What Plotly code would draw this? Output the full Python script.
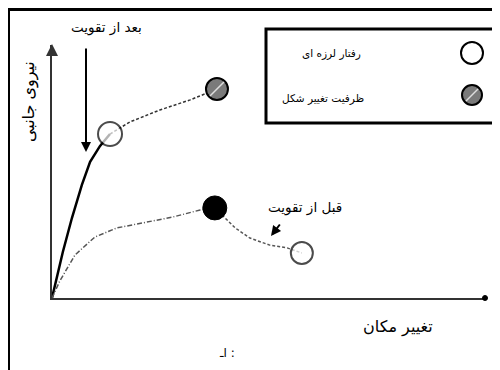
import plotly.graph_objects as go

# schematic values (displacement / lateral force, arbitrary units 0-100)
disp_after = [0, 2.5, 4.6, 6.9, 8.8, 11.1, 13.4]
force_after = [0, 18.2, 31.6, 44.7, 53.8, 60.1, 64.8]

disp_after_ext = [13.4, 18.0, 24.9, 31.9, 38.1]
force_after_ext = [64.8, 69.6, 74.3, 78.3, 82.6]

disp_before = [0, 1.8, 5.3, 9.9, 15.0, 21.0, 27.9, 34.2, 37.6]
force_before = [0, 6.7, 17.0, 24.1, 27.7, 29.6, 32.0, 34.8, 35.6]

disp_before_post = [37.6, 42.3, 45.7, 50.3, 54.3, 57.7]
force_before_post = [35.6, 27.7, 23.7, 20.9, 19.8, 17.8]

labels = {
    'after': 'بعد از تقویت',
    'before': 'قبل از تقویت',
    'yield': 'رفتار لرزه ای',
    'capacity': 'ظرفیت تغییر شکل',
    'x': 'تغییر مکان',
    'y': 'نیروی جانبی',
    'caption': 'اـ :',
}

FONT = 'DejaVu Sans'
OFF = 8  # page body margin
W, H = 500 - OFF, 370 - OFF
L, R, T, B = 44, 15, 37, 72
PW, PH = W - L - R, H - T - B


def px(x):
    # screen pixel -> paper x
    return (x - OFF - L) / PW


def py(y):
    # screen pixel -> paper y
    return (H - B - (y - OFF)) / PH


fig = go.Figure()

fig.add_trace(go.Scatter(x=disp_after, y=force_after, mode='lines',
                         line=dict(color='black', width=2.5), cliponaxis=False))
fig.add_trace(go.Scatter(x=disp_after_ext, y=force_after_ext, mode='lines',
                         line=dict(color='#333', width=1.5, dash='3px,2px'), cliponaxis=False))
fig.add_trace(go.Scatter(x=disp_before, y=force_before, mode='lines',
                         line=dict(color='#555', width=1.5, dash='5px,2px,1px,2px'), cliponaxis=False))
fig.add_trace(go.Scatter(x=disp_before_post, y=force_before_post, mode='lines',
                         line=dict(color='#555', width=1.5, dash='3px,2px'), cliponaxis=False))

# white circles: yield points
fig.add_trace(go.Scatter(x=[disp_after[-1], disp_before_post[-1]],
                         y=[force_after[-1], force_before_post[-1]], mode='markers',
                         marker=dict(size=[24, 22], color='white', line=dict(color='black', width=2)),
                         cliponaxis=False))
# hatched circle: deformation capacity
fig.add_trace(go.Scatter(x=[disp_after_ext[-1]], y=[force_after_ext[-1]], mode='markers',
                         marker=dict(size=22, color='#7a7a7a', line=dict(color='black', width=2)),
                         cliponaxis=False))
fig.add_trace(go.Scatter(x=[disp_after_ext[-1]], y=[force_after_ext[-1]], mode='markers',
                         marker=dict(size=14, symbol='line-ne-open', color='#dddddd',
                                     line=dict(color='#dddddd', width=1.5)),
                         cliponaxis=False))
# black circle: peak before retrofit
fig.add_trace(go.Scatter(x=[disp_before[-1]], y=[force_before[-1]], mode='markers',
                         marker=dict(size=24, color='black', line=dict(color='black', width=1)),
                         cliponaxis=False))

shapes = [
    # outer frame
    dict(type='line', xref='paper', yref='paper', x0=px(7), x1=px(500), y0=py(9.5), y1=py(9.5),
         line=dict(color='black', width=3)),
    dict(type='line', xref='paper', yref='paper', x0=px(9), x1=px(9), y0=py(8), y1=py(370),
         line=dict(color='black', width=2)),
    # legend box
    dict(type='rect', xref='paper', yref='paper', x0=px(266), x1=px(494), y0=py(29), y1=py(123),
         line=dict(color='black', width=3)),
    # legend glyphs
    dict(type='circle', xref='paper', yref='paper', xsizemode='pixel', ysizemode='pixel',
         xanchor=px(472), yanchor=py(53), x0=-11, x1=11, y0=-11, y1=11,
         fillcolor='white', line=dict(color='black', width=2)),
    dict(type='circle', xref='paper', yref='paper', xsizemode='pixel', ysizemode='pixel',
         xanchor=px(472), yanchor=py(95), x0=-10, x1=10, y0=-10, y1=10,
         fillcolor='#7a7a7a', line=dict(color='black', width=2)),
    dict(type='line', xref='paper', yref='paper', xsizemode='pixel', ysizemode='pixel',
         xanchor=px(472), yanchor=py(95), x0=-6, x1=6, y0=-6, y1=6,
         line=dict(color='#dddddd', width=1.5)),
    # x-axis end dot
    dict(type='circle', xref='paper', yref='paper', xsizemode='pixel', ysizemode='pixel',
         xanchor=1, yanchor=0, x0=-2.5, x1=2.5, y0=-2.5, y1=2.5,
         fillcolor='black', line=dict(color='black', width=1)),
]


def label(x, y, text, size, xanchor='center', angle=0):
    return dict(xref='paper', yref='paper', x=px(x), y=py(y), text=text, showarrow=False,
                xanchor=xanchor, yanchor='middle', textangle=angle,
                font=dict(family=FONT, size=size, color='black'))


def arrow(x, y, ax, ay, size=1, color='black'):
    return dict(xref='paper', yref='paper', x=px(x), y=py(y), ax=ax, ay=ay, text='',
                showarrow=True, arrowhead=2, arrowsize=size, arrowwidth=2, arrowcolor=color)


annotations = [
    label(106, 28, labels['after'], 13.5),
    arrow(86, 152, 0, -105),
    label(305, 207, labels['before'], 13.5),
    arrow(271, 236, 10, -13),
    label(363, 53, labels['yield'], 10.5, xanchor='right'),
    label(366, 98, labels['capacity'], 10.5, xanchor='right'),
    label(398, 327, labels['x'], 16),
    label(29, 102, labels['y'], 16, angle=-90),
    label(227, 353, labels['caption'], 12),
    # y-axis arrowhead
    arrow(52, 44, 0, 12, size=1.2, color='#333'),
]

fig.update_layout(
    width=W, height=H,
    margin=dict(l=L, r=R, t=T, b=B),
    paper_bgcolor='white', plot_bgcolor='white',
    showlegend=False,
    shapes=shapes,
    annotations=annotations,
    xaxis=dict(range=[0, 100], showline=True, linecolor='#333', linewidth=2, showgrid=False,
               zeroline=False, showticklabels=False, ticks=''),
    yaxis=dict(range=[0, 100], showline=True, linecolor='#333', linewidth=2, showgrid=False,
               zeroline=False, showticklabels=False, ticks=''),
)

fig.write_html("out.html")
